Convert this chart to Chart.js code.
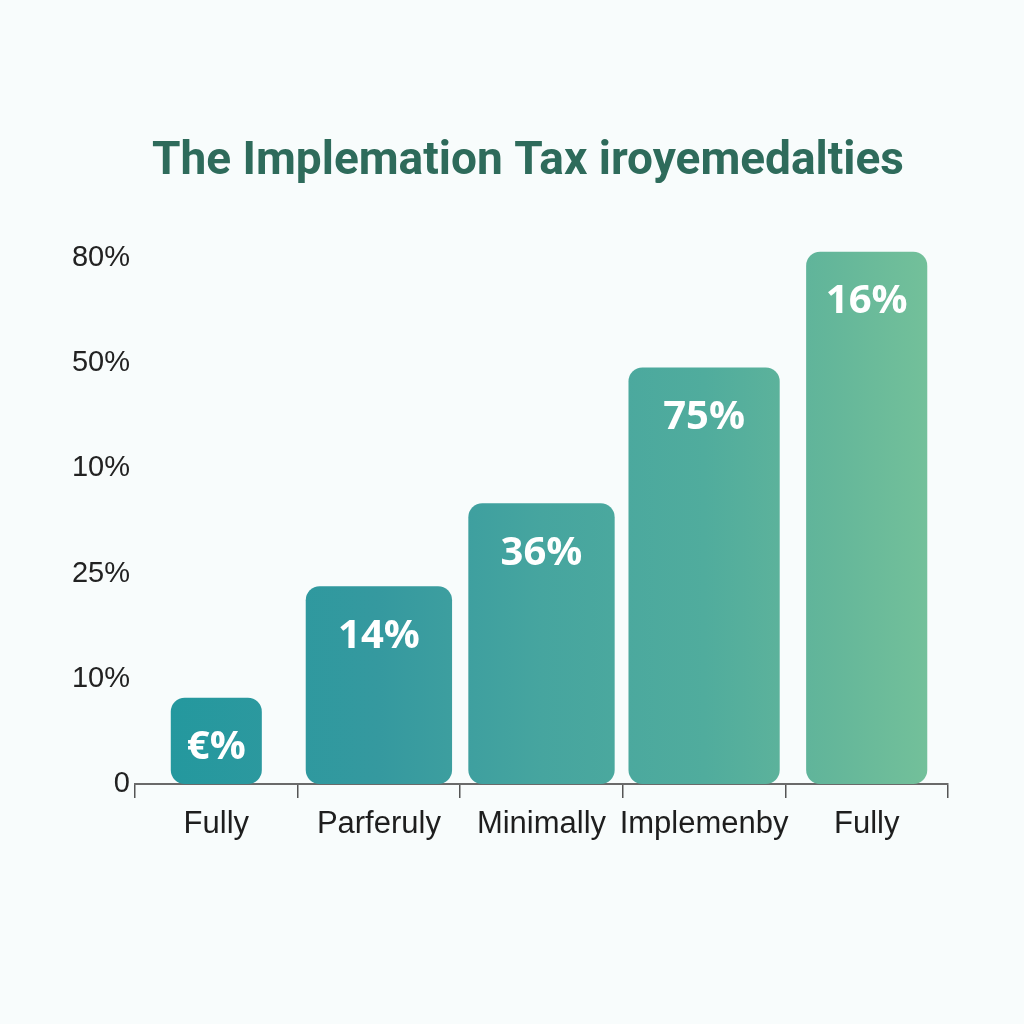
<!DOCTYPE html>
<html>
<head>
<meta charset="utf-8">
<title>The Implemation Tax iroyemedalties</title>
<script src="https://cdn.jsdelivr.net/npm/chart.js@4.4.1/dist/chart.umd.min.js"></script>
<style>
  html, body { margin: 0; padding: 0; background: #f8fcfc; }
  #wrap { width: 1024px; height: 1024px; }
</style>
</head>
<body>
<div id="wrap"><canvas id="chart" width="1024" height="1024"></canvas></div>
<script>
// 数据
const chartTitle = 'The Implemation Tax iroyemedalties';
const categories = ['Fully', 'Parferuly', 'Minimally', 'Implemenby', 'Fully'];
const values = [0.82, 1.88, 2.67, 3.96, 5.06];
const valueLabels = ['€%', '14%', '36%', '75%', '16%'];
const yTickLabels = ['0', '10%', '25%', '10%', '50%', '80%'];

// 每根柱子占类别宽度的比例（样式）
const barFractions = [0.56, 0.9, 0.9, 0.93, 0.745];

// 横向渐变：青色 -> 绿色
function barGradient(context) {
    const chart = context.chart;
    const area = chart.chartArea;
    if (!area) return '#3fa3a0';
    const g = chart.ctx.createLinearGradient(area.left, 0, area.right, 0);
    g.addColorStop(0, '#21989e');
    g.addColorStop(0.3, '#35999f');
    g.addColorStop(0.5, '#46a59f');
    g.addColorStop(0.7, '#50ac9d');
    g.addColorStop(0.85, '#63b69a');
    g.addColorStop(1, '#76c29a');
    return g;
}

// 每个类别一个数据集，便于单独设置宽度
const datasets = values.map((v, i) => ({
    label: categories[i],
    data: values.map((_, j) => (j === i ? v : null)),
    backgroundColor: barGradient,
    borderRadius: 14,
    borderSkipped: false,
    barPercentage: barFractions[i],
    categoryPercentage: 1,
    grouped: false
}));

// 背景
const backgroundPlugin = {
    id: 'bg',
    beforeDraw(chart) {
        const ctx = chart.ctx;
        ctx.save();
        ctx.fillStyle = '#f8fcfc';
        ctx.fillRect(0, 0, chart.width, chart.height);
        ctx.restore();
    }
};

// 标题
const titlePlugin = {
    id: 'customTitle',
    afterDraw(chart) {
        const ctx = chart.ctx;
        ctx.save();
        ctx.font = 'bold 46px "Liberation Sans Narrow", Roboto, sans-serif';
        ctx.fillStyle = '#2e6b5b';
        ctx.textAlign = 'center';
        ctx.textBaseline = 'middle';
        ctx.fillText(chartTitle, 528, 162);
        ctx.restore();
    }
};

// 柱内数值
const valueLabelPlugin = {
    id: 'valueLabels',
    afterDatasetsDraw(chart) {
        const ctx = chart.ctx;
        ctx.save();
        ctx.font = 'bold 40px "Open Sans", sans-serif';
        ctx.fillStyle = '#ffffff';
        ctx.textAlign = 'center';
        ctx.textBaseline = 'middle';
        chart.data.datasets.forEach((ds, i) => {
            const bar = chart.getDatasetMeta(i).data[i];
            if (!bar) return;
            ctx.fillText(valueLabels[i], bar.x, bar.y + 50);
        });
        ctx.restore();
    }
};

const ctx = document.getElementById('chart').getContext('2d');
new Chart(ctx, {
    type: 'bar',
    data: { labels: categories, datasets: datasets },
    options: {
        responsive: false,
        animation: false,
        layout: { padding: { top: 237, right: 76, bottom: 140, left: 0 } },
        plugins: {
            legend: { display: false },
            tooltip: { enabled: false },
            title: { display: false }
        },
        scales: {
            x: {
                offset: true,
                grid: {
                    display: true,
                    drawOnChartArea: false,
                    drawTicks: true,
                    tickLength: 14,
                    color: '#555555',
                    lineWidth: 1.5
                },
                border: { display: true, color: '#6a6a6a', width: 2 },
                ticks: {
                    autoSkip: false,
                    maxRotation: 0,
                    minRotation: 0,
                    padding: 8,
                    color: '#1e1e1e',
                    font: { family: '"Liberation Sans", Arial, sans-serif', size: 31 }
                },
                afterFit(scale) { scale.height = 100; }
            },
            y: {
                min: 0,
                max: 5.2,
                grid: { display: false, drawTicks: false },
                border: { display: false },
                afterBuildTicks(scale) {
                    scale.ticks = yTickLabels.map((_, i) => ({ value: i }));
                },
                ticks: {
                    padding: 5,
                    color: '#222222',
                    font: { family: '"Liberation Sans", Arial, sans-serif', size: 29 },
                    callback: (value) => yTickLabels[value] ?? ''
                },
                afterFit(scale) { scale.width = 135; }
            }
        }
    },
    plugins: [backgroundPlugin, valueLabelPlugin, titlePlugin]
});
</script>
</body>
</html>
